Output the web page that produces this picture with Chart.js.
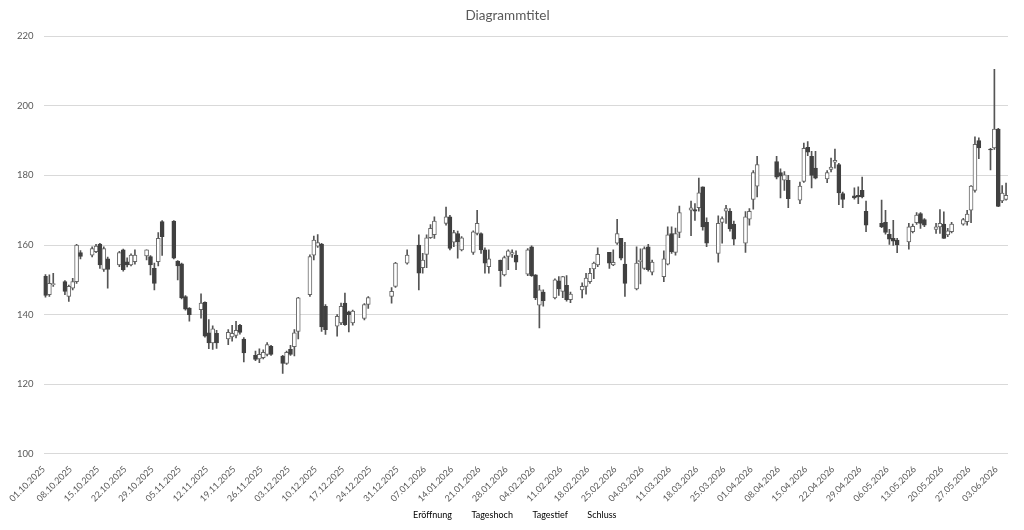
<!DOCTYPE html>
<html>
<head>
<meta charset="utf-8">
<script src="https://cdn.jsdelivr.net/npm/chart.js@4.4.1/dist/chart.umd.min.js"></script>
<style>
  html, body { margin: 0; padding: 0; background: #fff; }
  #wrap { width: 1024px; height: 530px; }
</style>
</head>
<body>
<div id="wrap"><canvas id="chart"></canvas></div>
<script>
// trading days (dd.mm.yyyy)
const dates = [
  '01.10.2025','02.10.2025','03.10.2025','06.10.2025','07.10.2025','08.10.2025','09.10.2025','10.10.2025','13.10.2025','14.10.2025','15.10.2025','16.10.2025','17.10.2025','20.10.2025','21.10.2025','22.10.2025','23.10.2025','24.10.2025','27.10.2025','28.10.2025','29.10.2025','30.10.2025','31.10.2025',
  '03.11.2025','04.11.2025','05.11.2025','06.11.2025','07.11.2025','10.11.2025','11.11.2025','12.11.2025','13.11.2025','14.11.2025','17.11.2025','18.11.2025','19.11.2025','20.11.2025','21.11.2025','24.11.2025','25.11.2025','26.11.2025','27.11.2025','28.11.2025',
  '01.12.2025','02.12.2025','03.12.2025','04.12.2025','05.12.2025','08.12.2025','09.12.2025','10.12.2025','11.12.2025','12.12.2025','15.12.2025','16.12.2025','17.12.2025','18.12.2025','19.12.2025','22.12.2025','23.12.2025','29.12.2025','30.12.2025',
  '02.01.2026','05.01.2026','06.01.2026','07.01.2026','08.01.2026','09.01.2026','12.01.2026','13.01.2026','14.01.2026','15.01.2026','16.01.2026','19.01.2026','20.01.2026','21.01.2026','22.01.2026','23.01.2026','26.01.2026','27.01.2026','28.01.2026','29.01.2026','30.01.2026',
  '02.02.2026','03.02.2026','04.02.2026','05.02.2026','06.02.2026','09.02.2026','10.02.2026','11.02.2026','12.02.2026','13.02.2026','16.02.2026','17.02.2026','18.02.2026','19.02.2026','20.02.2026','23.02.2026','24.02.2026','25.02.2026','26.02.2026','27.02.2026',
  '02.03.2026','03.03.2026','04.03.2026','05.03.2026','06.03.2026','09.03.2026','10.03.2026','11.03.2026','12.03.2026','13.03.2026','16.03.2026','17.03.2026','18.03.2026','19.03.2026','20.03.2026','23.03.2026','24.03.2026','25.03.2026','26.03.2026','27.03.2026','30.03.2026','31.03.2026',
  '01.04.2026','02.04.2026','07.04.2026','08.04.2026','09.04.2026','10.04.2026','13.04.2026','14.04.2026','15.04.2026','16.04.2026','17.04.2026','20.04.2026','21.04.2026','22.04.2026','23.04.2026','24.04.2026','27.04.2026','28.04.2026','29.04.2026','30.04.2026',
  '04.05.2026','05.05.2026','06.05.2026','07.05.2026','08.05.2026','11.05.2026','12.05.2026','13.05.2026','14.05.2026','15.05.2026','18.05.2026','19.05.2026','20.05.2026','21.05.2026','22.05.2026','25.05.2026','26.05.2026','27.05.2026','28.05.2026','29.05.2026',
  '01.06.2026','02.06.2026','03.06.2026','04.06.2026','05.06.2026'
];

const open = [
  151, 145.7, 148.6, 149.5, 145.2, 147.6, 149.5, 157.8, 157.1, 158.1, 160.3, 153, 156, 154.3, 158.6, 155.2, 154.3, 155.2, 156.9, 156.7, 153.3, 155.2, 166.7,
  166.9, 155.4, 154.6, 145.2, 141.9, 141.4, 143.5, 134.8, 131.9, 134.6, 133, 133.6, 134, 136.9, 133, 128.3, 127.3, 127.6, 128.6, 130.9,
  128.1, 126, 130, 130.8, 135.2, 145.7, 157.1, 159.7, 160.3, 142.4, 136.7, 137.6, 143.3, 140.8, 137.6, 138.9, 142.9, 145.2, 148.1,
  154.8, 160, 153.5, 157.3, 162.1, 163, 166.2, 168.1, 160.8, 163.3, 158.6, 157.9, 163.3, 163.3, 158.6, 153.8, 155.7, 151.4, 156.7, 157.4, 157.1,
  151.6, 159.5, 151.4, 142.7, 146.5, 144.8, 149.7, 146.7, 148.4, 144.3, 147.1, 148.1, 149.5, 153.1, 154.3, 157.9, 154.3, 160.5, 161.9, 154.5,
  147.4, 155.2, 153.3, 159.5, 152.2, 150.9, 154.5, 163.3, 157.9, 163.6, 170, 170.2, 170.7, 176.7, 166.5, 157.6, 166.5, 169.7, 169.7, 166, 160.5, 167.4,
  173.1, 176.9, 184, 180.8, 178.6, 178.6, 172.9, 178.3, 188.1, 185.5, 182.1, 179, 181.7, 183.8, 183.1, 174.8, 174.1, 174.3, 175.7, 169.7,
  166.2, 166.5, 163.1, 161.9, 161.4, 160.9, 163.8, 166.4, 169, 167.3, 164.5, 165.2, 166, 162.9, 163.8, 166, 166.7, 170, 175.7, 190,
  187.6, 187.9, 193.3, 172.7, 173.1
];

const high = [
  151.5, 151.4, 151.9, 149.8, 148.5, 150.4, 160.2, 158.4, 159.5, 160.2, 160.5, 159.5, 156.5, 158.2, 158.8, 156.3, 157.5, 158.6, 158.6, 157, 154.8, 163.6, 167,
  167, 155.5, 154.8, 145.5, 142, 146, 143.7, 138.6, 136.8, 135.5, 135.7, 136.9, 138.1, 137.2, 133.4, 129.5, 130.2, 129.9, 132, 131.2,
  128.3, 129.5, 131.2, 135.7, 145, 157.2, 162.6, 163, 160.5, 142.9, 140, 143.3, 146.2, 141, 141.3, 143.2, 145.2, 147.8, 155,
  158.6, 162.9, 157.6, 162.9, 165.9, 168.1, 170.9, 168.5, 164.2, 164, 162.4, 164.1, 170, 163.5, 159.2, 158.6, 155.7, 156.8, 158.6, 158.6, 158.3,
  159, 159.8, 151.5, 148.4, 147.1, 150.3, 150.9, 151, 151.2, 146.5, 149.1, 151.9, 153.3, 155.1, 159.2, 157.9, 158.6, 167.4, 161.9, 160.8,
  159.5, 158.9, 159.5, 160.2, 155.7, 158.3, 165.2, 165.2, 164.9, 171.2, 172.6, 171.9, 179.2, 176.7, 167.8, 168.4, 168.1, 171.4, 170.5, 166.9, 169.6, 170.5,
  181.4, 185.5, 185.5, 181.9, 181.1, 180, 178.1, 189.3, 189.7, 186.9, 186.9, 181.4, 185, 187.6, 183.5, 175.2, 176.4, 176.7, 179.5, 172.6,
  172.9, 170, 164.5, 167.1, 161.9, 166.2, 166, 169.3, 169.3, 167.6, 166.2, 170.2, 169.5, 164.8, 166.5, 167.7, 170, 177.1, 191.1, 190.8,
  187.8, 210.5, 193.5, 177.1, 177.8
];

const low = [
  145, 145.2, 148.1, 145.7, 143.8, 147.1, 149, 156, 156.6, 157.8, 153.3, 152.4, 147.6, 153.8, 152.5, 153.7, 154, 154.5, 155.7, 151.4, 147.1, 154, 157,
  156, 150, 144.5, 141.3, 138.1, 139, 133.5, 130.2, 130, 130.3, 131.4, 132.4, 133.3, 134.4, 126.4, 126.8, 126.2, 127.3, 128.1, 128.3,
  123.1, 125.7, 128.3, 128.1, 133, 145.2, 155.7, 159.3, 135.2, 134.3, 133.8, 137.1, 136.9, 135, 137, 138.5, 141.8, 143.3, 147.8,
  154.5, 147.1, 151.9, 153.5, 161.9, 161.9, 165.7, 158.6, 159.5, 156.2, 158.3, 157.3, 162.9, 157.6, 151.9, 151.9, 148.1, 151.1, 152.9, 156.4, 152.9,
  151.2, 151, 144.3, 136.2, 142.4, 144.5, 145.5, 144.9, 143.9, 143.4, 144.8, 145.9, 149, 150.3, 153.8, 153.3, 154.1, 160.2, 155.7, 145.2,
  147.1, 148.8, 153, 152.5, 151.4, 149.5, 154.3, 157.6, 157.1, 162.1, 162.7, 167.1, 169.7, 164.3, 159.5, 155.1, 160.5, 166.2, 164, 160, 157.9, 165.7,
  170.3, 173.8, 179, 173.5, 175.7, 170.7, 171.9, 178, 185.7, 176.4, 179, 177.9, 181, 182.1, 171.6, 170.7, 173.2, 171.9, 173.5, 163.8,
  165, 163.1, 160.2, 159.9, 157.8, 158.8, 163.5, 165.9, 164.8, 165.3, 163.3, 163.3, 161.9, 162.4, 163.5, 165.7, 165.7, 166.4, 175.2, 184.8,
  181.6, 187.5, 171, 172.2, 172.9
];

const close = [
  145.5, 149, 148.9, 146.7, 148.1, 149.5, 160, 156.7, 159, 159.7, 154.3, 159, 153, 157.8, 152.9, 154.3, 157.1, 157.1, 158.6, 154.3, 149, 161.9, 162.4,
  156.2, 154, 144.8, 141.6, 140, 143.3, 133.8, 131.9, 135.9, 131.9, 134.9, 134.6, 135.5, 134.9, 129, 127.1, 128.6, 129.2, 131.4, 128.6,
  126, 129.2, 128.6, 134.8, 144.8, 156.7, 161.4, 160.7, 136.5, 135.7, 139.5, 142.4, 137.1, 140, 141, 142.9, 144.9, 146.7, 154.8,
  157.1, 151.9, 155.7, 162.1, 164.8, 166.9, 168.1, 159, 163.6, 160.9, 162.1, 163.8, 166.2, 158.6, 154.8, 156, 152.6, 156.4, 158.3, 157.8, 155.1,
  158.6, 151.2, 144.8, 147.1, 144, 150, 147.4, 150.9, 144.3, 145.9, 148.1, 150.5, 151.9, 154.8, 157.3, 154.8, 155, 163.3, 156.2, 149,
  154.8, 155.7, 159, 152.9, 155.1, 156, 162.9, 158.1, 163.3, 169.3, 170.7, 169.7, 175, 165.2, 160.5, 166.2, 167.6, 170.5, 164.6, 161.7, 168.1, 169.7,
  180.8, 183.1, 179.5, 179.8, 180.2, 173.3, 176.9, 187.8, 186.7, 180, 179.2, 180.8, 182.4, 184.3, 175, 173.1, 173.5, 173.8, 173.8, 165.7,
  165.2, 163.6, 161.7, 161.1, 160, 165.2, 165.4, 168.6, 166.2, 165.7, 165.2, 166.2, 161.9, 164.1, 166, 167.3, 168.9, 176.9, 188.9, 187.9,
  187.3, 193.3, 171.1, 174.9, 174.3
];

const seriesNames = ['Eröffnung', 'Tageshoch', 'Tagestief', 'Schluss'];
const axisFirstDay = '01.10.2025';
const axisDays = 248;

const DAY = 86400000;
function toUTC(s) {
  const p = s.split('.').map(Number);
  return Date.UTC(p[2], p[1] - 1, p[0]);
}
const t0 = toUTC(axisFirstDay);
function fmtDay(v) {
  const d = new Date(t0 + v * DAY);
  return String(d.getUTCDate()).padStart(2, '0') + '.' +
    String(d.getUTCMonth() + 1).padStart(2, '0') + '.' + d.getUTCFullYear();
}

const xs = dates.map(s => Math.round((toUTC(s) - t0) / DAY) + 0.5);
const up = open.map((o, i) => close[i] >= o);

const wickData = xs.map((x, i) => ({ x: x, y: [low[i], high[i]] }));
const bodyData = xs.map((x, i) => ({ x: x, y: [Math.min(open[i], close[i]), Math.max(open[i], close[i])] }));

const textGrey = '#595959';
const font = 'Lato, "Open Sans", sans-serif';

new Chart(document.getElementById('chart'), {
  type: 'bar',
  data: {
    datasets: [
      {
        label: 'Körper',
        data: bodyData,
        grouped: false,
        order: 0,
        barThickness: 4,
        borderWidth: 1,
        borderSkipped: false,
        backgroundColor: up.map(u => u ? '#ffffff' : '#404040'),
        borderColor: up.map(u => u ? '#666666' : '#404040'),
      },
      {
        label: 'Docht',
        data: wickData,
        grouped: false,
        order: 1,
        barThickness: 1,
        borderWidth: 0,
        backgroundColor: '#555555',
      },
    ],
  },
  options: {
    responsive: true,
    maintainAspectRatio: false,
    animation: false,
    layout: { padding: { left: 7, right: 16, top: 2, bottom: 0 } },
    plugins: {
      title: {
        display: true,
        text: 'Diagrammtitel',
        color: textGrey,
        font: { family: font, size: 13.5, weight: 'normal' },
        padding: { top: 6, bottom: 12 },
      },
      legend: {
        position: 'bottom',
        onClick: null,
        labels: {
          color: textGrey,
          font: { family: font, size: 9 },
          boxWidth: 10,
          boxHeight: 0,
          padding: 5,
          generateLabels: () => seriesNames.map(t => ({
            text: t,
            fillStyle: 'rgba(0,0,0,0)',
            strokeStyle: 'rgba(0,0,0,0)',
            lineWidth: 0,
            hidden: false,
          })),
        },
      },
      tooltip: { enabled: false },
    },
    scales: {
      x: {
        type: 'linear',
        offset: false,
        min: 0,
        max: axisDays,
        grid: { display: false },
        border: { display: false },
        ticks: {
          stepSize: 7,
          includeBounds: false,
          autoSkip: false,
          maxRotation: 45,
          minRotation: 45,
          padding: 2,
          color: textGrey,
          font: { family: font, size: 9 },
          callback: v => fmtDay(v),
        },
      },
      y: {
        min: 100,
        max: 220,
        grid: { color: '#d9d9d9', drawTicks: false },
        border: { display: false },
        ticks: {
          stepSize: 20,
          padding: 10,
          color: textGrey,
          font: { family: font, size: 9.5 },
        },
      },
    },
  },
});
</script>
</body>
</html>
